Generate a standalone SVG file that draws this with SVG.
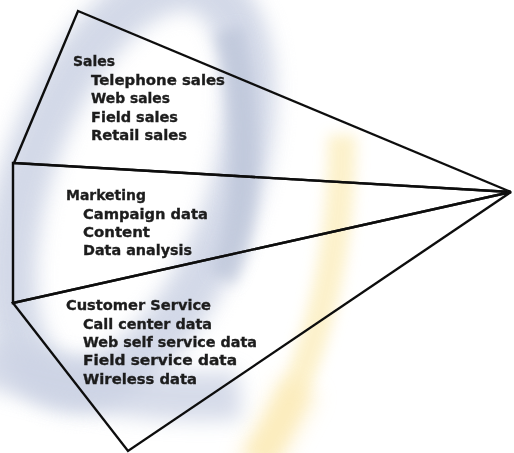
<svg xmlns="http://www.w3.org/2000/svg" width="514" height="453" viewBox="0 0 514 453">
  <defs>
    <filter id="blurBig" filterUnits="userSpaceOnUse" x="-150" y="-150" width="814" height="753">
      <feGaussianBlur stdDeviation="10"/>
    </filter>
    <filter id="blurMid" filterUnits="userSpaceOnUse" x="-150" y="-150" width="814" height="753">
      <feGaussianBlur stdDeviation="7"/>
    </filter>
    <filter id="soft" filterUnits="userSpaceOnUse" x="0" y="0" width="514" height="453">
      <feGaussianBlur stdDeviation="0.35"/>
    </filter>
  </defs>
  <style>
    .shape { fill: none; stroke: #111; stroke-width: 2.4; stroke-linejoin: miter; }
    .head, .item { font-family: "DejaVu Sans", "Liberation Sans", sans-serif; font-weight: bold; font-size: 14.5px; fill: #1e1e1e; stroke: #1e1e1e; stroke-width: 0.35; }
  </style>
  <rect width="514" height="453" fill="#ffffff"/>
  <!-- background watermark -->
  <g id="background">
    <ellipse cx="130" cy="185" rx="102" ry="210" transform="rotate(20 130 185)" fill="none" stroke="#ccd3e4" stroke-width="52" filter="url(#blurBig)" opacity="0.85"/>
    <path d="M-20,360 C60,385 160,402 240,395" fill="none" stroke="#ccd3e4" stroke-width="48" filter="url(#blurBig)" opacity="0.8"/>
    <path d="M228,30 C252,120 248,230 222,278" fill="none" stroke="#b8c1d6" stroke-width="28" filter="url(#blurMid)" opacity="0.65"/>
    <path d="M342,135 C342,240 322,360 258,460" fill="none" stroke="#fcefc2" stroke-width="28" filter="url(#blurMid)" opacity="0.85"/>
    <path d="M300,385 C285,415 270,440 255,470" fill="none" stroke="#fce9b4" stroke-width="42" filter="url(#blurBig)" opacity="0.55"/>
  </g>
  <g id="sales" filter="url(#soft)">
    <polygon class="shape" points="78,11 511,192 14,163"/>
    <text class="head" x="73" y="66" textLength="42" lengthAdjust="spacingAndGlyphs">Sales</text>
    <text class="item" x="91" y="85" textLength="134" lengthAdjust="spacingAndGlyphs">Telephone sales</text>
    <text class="item" x="91" y="103" textLength="79" lengthAdjust="spacingAndGlyphs">Web sales</text>
    <text class="item" x="91" y="121.5" textLength="87" lengthAdjust="spacingAndGlyphs">Field sales</text>
    <text class="item" x="91" y="140" textLength="96" lengthAdjust="spacingAndGlyphs">Retail sales</text>
  </g>
  <g id="marketing" filter="url(#soft)">
    <polygon class="shape" points="13,163 511,192 13,303"/>
    <text class="head" x="66" y="200" textLength="80" lengthAdjust="spacingAndGlyphs">Marketing</text>
    <text class="item" x="83" y="218.5" textLength="125" lengthAdjust="spacingAndGlyphs">Campaign data</text>
    <text class="item" x="83" y="237" textLength="67" lengthAdjust="spacingAndGlyphs">Content</text>
    <text class="item" x="83" y="255" textLength="109" lengthAdjust="spacingAndGlyphs">Data analysis</text>
  </g>
  <g id="customer-service" filter="url(#soft)">
    <polygon class="shape" points="13,303 511,192 128,451"/>
    <text class="head" x="66" y="310" textLength="145" lengthAdjust="spacingAndGlyphs">Customer Service</text>
    <text class="item" x="83" y="328.5" textLength="129" lengthAdjust="spacingAndGlyphs">Call center data</text>
    <text class="item" x="83" y="347" textLength="174" lengthAdjust="spacingAndGlyphs">Web self service data</text>
    <text class="item" x="83" y="365" textLength="154" lengthAdjust="spacingAndGlyphs">Field service data</text>
    <text class="item" x="83" y="383.5" textLength="114" lengthAdjust="spacingAndGlyphs">Wireless data</text>
  </g>
</svg>
